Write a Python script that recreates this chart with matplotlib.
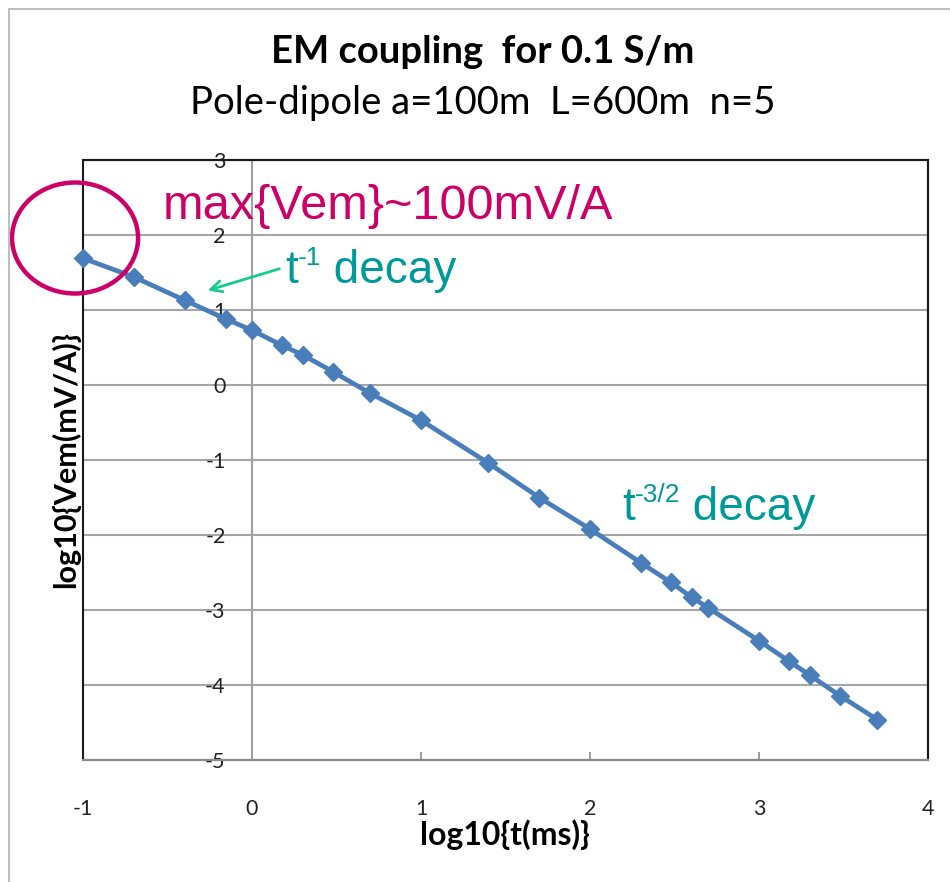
import matplotlib
matplotlib.use("Agg")
import matplotlib.pyplot as plt
from matplotlib.patches import Ellipse, Rectangle

# ---- data ----
log_t = [-1.0, -0.699, -0.398, -0.155, 0.0, 0.176, 0.301, 0.477, 0.699, 1.0,
         1.398, 1.699, 2.0, 2.301, 2.477, 2.602, 2.699, 3.0, 3.176, 3.301, 3.477, 3.699]
log_vem = [1.69, 1.44, 1.13, 0.88, 0.73, 0.53, 0.40, 0.18, -0.11, -0.47,
           -1.04, -1.50, -1.92, -2.37, -2.63, -2.83, -2.97, -3.41, -3.68, -3.87, -4.14, -4.46]
x_ticks = [-1, 0, 1, 2, 3, 4]
y_ticks = [-5, -4, -3, -2, -1, 0, 1, 2, 3]

title1 = "EM coupling  for 0.1 S/m"
title2 = "Pole-dipole a=100m  L=600m  n=5"
xlabel = "log10{t(ms)}"
ylabel = "log10{Vem(mV/A)}"

plt.rcParams["font.family"] = ["Lato", "DejaVu Sans"]
plt.rcParams["axes.unicode_minus"] = False

W, H = 950, 882
fig = plt.figure(figsize=(W / 100, H / 100), dpi=100)
ax = fig.add_axes([83 / W, 1 - 760 / H, (928 - 83) / W, (760 - 160) / H])

ax.set_xlim(-1, 4)
ax.set_ylim(-5, 3)

# grid
ax.set_yticks(y_ticks)
ax.set_xticks(x_ticks)
ax.yaxis.grid(True, color="#A6A6A6", lw=1.5)
ax.set_axisbelow(True)

# y axis crossing at x=0 (Excel style)
ax.spines["left"].set_position(("data", 0))
ax.spines["left"].set_color("#A0A0A0")
ax.spines["left"].set_linewidth(1.5)
ax.spines["bottom"].set_color("#8C8C8C")
ax.spines["bottom"].set_linewidth(1.5)
for s in ["top", "right"]:
    ax.spines[s].set_color("#1A1A1A")
    ax.spines[s].set_linewidth(1.5)
# plot-area border
ax.add_patch(Rectangle((0, 0), 1, 1, transform=ax.transAxes, fill=False,
                       ec="#1A1A1A", lw=1.5, clip_on=False, zorder=1))

ax.tick_params(axis="y", length=0, pad=19, labelsize=15.5, labelcolor="#222222")
ax.tick_params(axis="x", direction="in", length=6, width=1.2, color="#8C8C8C",
               pad=28, labelsize=15.5, labelcolor="#222222")

ax.plot(log_t, log_vem, color="#4A7EBB", lw=3.4, marker="D", ms=9.5,
        mec="#4A7EBB", mfc="#4A7EBB", zorder=3, clip_on=False)

ax.set_xlabel(xlabel, fontsize=23, fontweight="bold")
ax.xaxis.set_label_coords(0.499, -0.125)
ax.xaxis.label.set_verticalalignment("center")
ax.set_ylabel(ylabel, fontsize=22, fontweight="bold")
ax.yaxis.set_label_coords(-0.021, 0.5)
ax.yaxis.label.set_verticalalignment("center")

fig.text(483 / W, 1 - 52 / H, title1, ha="center", va="center",
         fontsize=27.5, fontweight="bold")
fig.text(483 / W, 1 - 103 / H, title2, ha="center", va="center", fontsize=27.5)

# annotations
ax.add_patch(Ellipse((-1.047, 1.96), 0.746, 1.48, fill=False, ec="#CC0066",
                     lw=3.2, clip_on=False, zorder=4))
ax.text(-0.527, 2.21, "max{Vem}~100mV/A", color="#CC0066", fontsize=35,
        family="Liberation Sans", va="baseline", ha="left")


def decay_label(x, y, sup):
    base = ax.text(x, y, "t", color="#009999", fontsize=33,
                   family="Liberation Sans", va="baseline", ha="left")
    s = ax.annotate(sup, xy=(1.0, 0.52), xycoords=base, color="#009999",
                    fontsize=19, family="Liberation Sans", va="bottom", ha="left")
    ax.annotate(" decay", xy=(1.0, 0.0), xycoords=(s, base), color="#009999",
                fontsize=33, family="Liberation Sans", va="bottom", ha="left")


decay_label(0.195, 1.36, "-1")
decay_label(2.19, -1.80, "-3/2")

ax.annotate("", xy=(-0.278, 1.25), xytext=(0.178, 1.56),
            arrowprops=dict(arrowstyle="->,head_length=0.8,head_width=0.4",
                            color="#14CC8C", lw=2))

# outer chart frame
fig.add_artist(Rectangle((9 / W, -0.01), 1.0, 1 - 9 / H + 0.01,
                         transform=fig.transFigure, fill=False, ec="#BFBFBF", lw=1.5))

fig.savefig("out.png", dpi=100)
